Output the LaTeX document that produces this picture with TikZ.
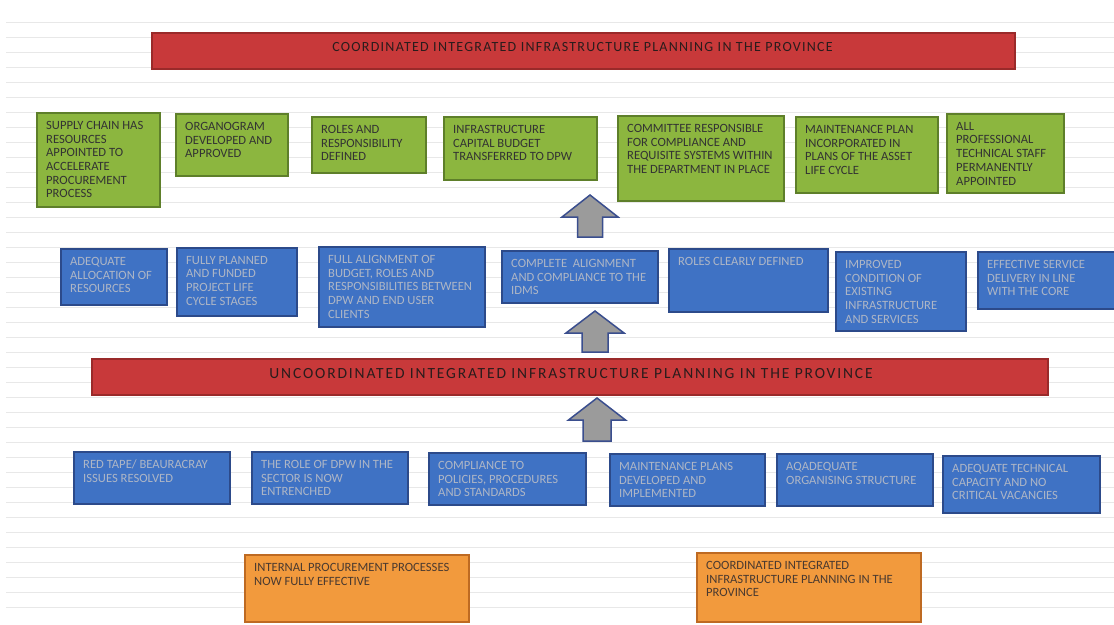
\documentclass[tikz,border=0pt]{standalone}
\usepackage{fontspec}
\setmainfont{Carlito}
\definecolor{gfill}{HTML}{8CB63F}
\definecolor{gline}{HTML}{5E7F2A}
\definecolor{bfill}{HTML}{3F72C4}
\definecolor{bline}{HTML}{2C4A8A}
\definecolor{rfill}{HTML}{C8393A}
\definecolor{rline}{HTML}{9A2A2A}
\definecolor{ofill}{HTML}{F29A3D}
\definecolor{oline}{HTML}{BE6A22}
\definecolor{afill}{HTML}{9B9B9B}
\definecolor{aline}{HTML}{3A4E8E}
\definecolor{gtext}{HTML}{333333}
\definecolor{btext}{HTML}{AEB6C6}
\definecolor{rtext}{HTML}{2A1C1C}
\definecolor{otext}{HTML}{4A3A30}
\definecolor{rule}{HTML}{E8E8E8}
\tikzset{
  x=1pt, y=-1pt,
  base/.style={inner sep=0pt, outer sep=0pt, line width=1.5pt, rectangle},
  gbox/.style={base, fill=gfill, draw=gline},
  bbox/.style={base, fill=bfill, draw=bline},
  rbox/.style={base, fill=rfill, draw=rline},
  obox/.style={base, fill=ofill, draw=oline},
  txt/.style={inner sep=0pt, align=left, font=\fontsize{12.6}{13.7}\selectfont},
  gtxt/.style={txt, text=gtext},
  btxt/.style={txt, text=btext},
  otxt/.style={txt, text=otext},
  arrowst/.style={fill=afill, draw=aline, line width=1.5pt, line join=miter},
}
\newcommand\bx[8]{%
  \node[#2, anchor=north west, minimum width={#5pt-#3pt}, minimum height={#6pt-#4pt}] (#1) at (#3,#4) {};
  \node[#7, anchor=north west] (#1t) at ([xshift=9pt,yshift=-8pt]#1.north west) {#8};}
\newcommand\uparr[7]{%
  \draw[arrowst] (#2,#3) -- ({#2+#6},#4) -- ({#2+#7},#4) -- ({#2+#7},#5) -- ({#2-#7},#5) -- ({#2-#7},#4) -- ({#2-#6},#4) -- cycle;
  \coordinate (#1) at (#2,#3);}
\begin{document}
\begin{tikzpicture}
\fill[white] (0,0) rectangle (1114,624);
\useasboundingbox (0,0) rectangle (1114,624);
% faint ruled lines of the background
\foreach \k in {0,...,39} {\draw[rule, line width=0.7pt] (6,{22+15*\k}) -- (1114,{22+15*\k});}

% top red bar
\node[rbox, anchor=north west, minimum width=863pt, minimum height=36pt] (top) at (152,33) {};
\node[inner sep=0pt, text=rtext, font=\fontsize{14}{16}\selectfont\addfontfeature{LetterSpace=9}] (topt) at ([xshift=-1pt,yshift=4pt]top.center) {COORDINATED INTEGRATED INFRASTRUCTURE PLANNING IN THE PROVINCE};

% green row
\bx{g1}{gbox}{37}{113}{160}{207}{gtxt}{SUPPLY CHAIN HAS\\RESOURCES\\APPOINTED TO\\ACCELERATE\\PROCUREMENT\\PROCESS}
\bx{g2}{gbox}{176}{114}{288}{176}{gtxt}{ORGANOGRAM\\DEVELOPED AND\\APPROVED}
\bx{g3}{gbox}{312}{117}{426}{173}{gtxt}{ROLES AND\\RESPONSIBILITY\\DEFINED}
\bx{g4}{gbox}{444}{117}{597}{180}{gtxt}{INFRASTRUCTURE\\CAPITAL BUDGET\\TRANSFERRED TO DPW}
\bx{g5}{gbox}{618}{116}{784}{201}{gtxt}{COMMITTEE RESPONSIBLE\\FOR COMPLIANCE AND\\REQUISITE SYSTEMS WITHIN\\THE DEPARTMENT IN PLACE}
\bx{g6}{gbox}{796}{117}{938}{193}{gtxt}{MAINTENANCE PLAN\\INCORPORATED IN\\PLANS OF THE ASSET\\LIFE CYCLE}
\bx{g7}{gbox}{947}{114}{1064}{193}{gtxt}{ALL\\PROFESSIONAL\\TECHNICAL STAFF\\PERMANENTLY\\APPOINTED}

% arrow 1
\uparr{a1}{590}{195}{217}{237}{28}{12.5}

% blue row 1
\bx{b1}{bbox}{61}{249}{167}{305}{btxt}{ADEQUATE\\ALLOCATION OF\\RESOURCES}
\bx{b2}{bbox}{177}{248}{297}{316}{btxt}{FULLY PLANNED\\AND FUNDED\\PROJECT LIFE\\CYCLE STAGES}
\bx{b3}{bbox}{319}{247}{485}{327}{btxt}{FULL ALIGNMENT OF\\BUDGET, ROLES AND\\RESPONSIBILITIES BETWEEN\\DPW AND END USER\\CLIENTS}
\bx{b4}{bbox}{502}{251}{658}{303}{btxt}{COMPLETE\ \ ALIGNMENT\\AND COMPLIANCE TO THE\\IDMS}
\bx{b5}{bbox}{669}{249}{828}{312}{btxt}{ROLES CLEARLY DEFINED}
\bx{b6}{bbox}{836}{252}{966}{331}{btxt}{IMPROVED\\CONDITION OF\\EXISTING\\INFRASTRUCTURE\\AND SERVICES}
\bx{b7}{bbox}{978}{252}{1116}{309}{btxt}{EFFECTIVE SERVICE\\DELIVERY IN LINE\\WITH THE CORE}

% arrow 2
\uparr{a2}{595}{311}{333}{352}{29}{13}

% lower red bar
\node[rbox, anchor=north west, minimum width=956pt, minimum height=36pt] (mid) at (92,359) {};
\node[inner sep=0pt, text=rtext, font=\fontsize{15.5}{17}\selectfont\addfontfeature{LetterSpace=12}] (midt) at ([xshift=1pt,yshift=3pt]mid.center) {UNCOORDINATED INTEGRATED INFRASTRUCTURE PLANNING IN THE PROVINCE};

% arrow 3
\uparr{a3}{597}{398}{420}{441}{28.5}{14}

% blue row 2
\bx{c1}{bbox}{74}{452}{230}{504}{btxt}{RED TAPE/ BEAURACRAY\\ISSUES RESOLVED}
\bx{c2}{bbox}{252}{452}{408}{504}{btxt}{THE ROLE OF DPW IN THE\\SECTOR IS NOW\\ENTRENCHED}
\bx{c3}{bbox}{429}{453}{586}{505}{btxt}{COMPLIANCE TO\\POLICIES, PROCEDURES\\AND STANDARDS}
\bx{c4}{bbox}{610}{454}{765}{506}{btxt}{MAINTENANCE PLANS\\DEVELOPED AND\\IMPLEMENTED}
\bx{c5}{bbox}{777}{454}{933}{506}{btxt}{AQADEQUATE\\ORGANISING STRUCTURE}
\bx{c6}{bbox}{943}{456}{1100}{513}{btxt}{ADEQUATE TECHNICAL\\CAPACITY AND NO\\CRITICAL VACANCIES}

% orange row
\bx{o1}{obox}{245}{555}{469}{622}{otxt}{INTERNAL PROCUREMENT PROCESSES\\NOW FULLY EFFECTIVE}
\bx{o2}{obox}{697}{553}{921}{622}{otxt}{COORDINATED INTEGRATED\\INFRASTRUCTURE PLANNING IN THE\\PROVINCE}
\end{tikzpicture}
\end{document}
